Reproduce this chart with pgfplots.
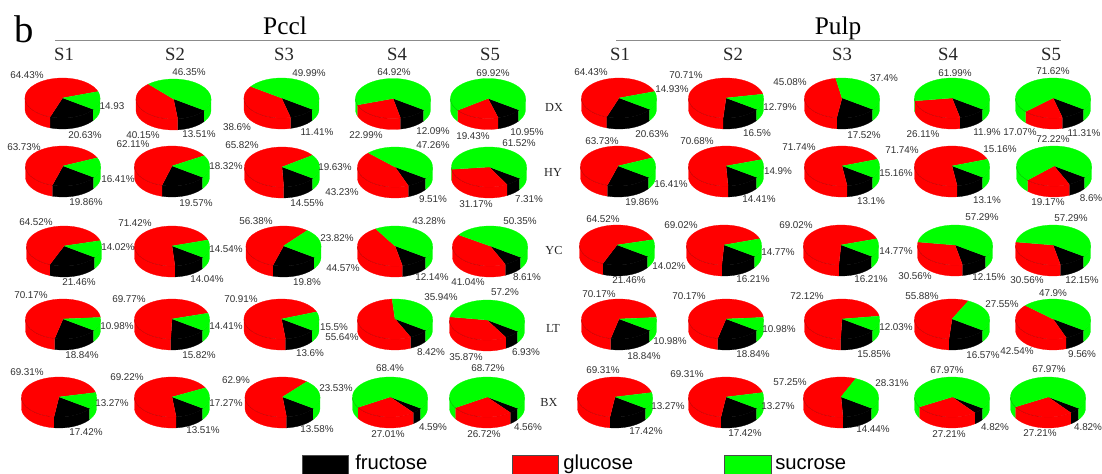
\documentclass[border=0pt]{standalone}
\usepackage{pgfplots}
\pgfplotsset{compat=1.18}
\usepackage{fontspec}
\setmainfont{Liberation Serif}
\newfontfamily\labf{Liberation Sans}
\definecolor{pred}{RGB}{255,0,0}
\definecolor{pgreen}{RGB}{0,255,0}
\definecolor{labc}{RGB}{50,50,50}
\def\rx{37.5}\def\ry{20}\def\pdepth{11}
\newcommand\arcpts[3]{%
  \pgfmathtruncatemacro\nn{max(1,ceil(abs((#2)-(#1))/6))}%
  \foreach \i in {0,...,\nn}{%
    \pgfmathsetmacro\ang{#1+((#2)-(#1))/\nn*\i}%
    \pgfmathsetmacro\px{\cx+\rx*cos(\ang)}%
    \pgfmathsetmacro\py{\cy-\ry*sin(\ang)+#3}%
    \xdef\cc{\cc (\px,\py)}%
  }}
\newcommand\emit[1]{\edef\tmp{\noexpand\addplot[#1,line width=.2pt,line join=round] coordinates {\cc};}\tmp}
% side piece of a wedge [b,a] clamped to window [wl,wh]
\newcommand\sidepiece[5]{% a b wl wh colour
  \pgfmathsetmacro\lo{max(#2,#3)}%
  \pgfmathsetmacro\hi{min(#1,#4)}%
  \pgfmathtruncatemacro\vis{\hi>\lo?1:0}%
  \ifnum\vis=1\relax
    \gdef\cc{}\arcpts{\hi}{\lo}{0}\arcpts{\lo}{\hi}{\pdepth}%
    \emit{fill=#5,draw=#5}%
  \fi}
\newcommand\topwedge[3]{% a b colour
  \xdef\cc{(\cx,\cy)}\arcpts{#1}{#2}{0}%
  \emit{fill=#3,draw=#3}}
\newcommand\piechart[5]{% cx cy fructose glucose sucrose
  \def\cx{#1}\def\cy{#2}%
  \pgfmathsetmacro\tot{#3+#4+#5}%
  \def\aA{-35}%
  \pgfmathsetmacro\aB{\aA-(#3)/\tot*360}%
  \pgfmathsetmacro\aC{\aB-(#4)/\tot*360}%
  \def\aD{-395}%
  \sidepiece{\aA}{\aB}{-180}{0}{black}%
  \sidepiece{\aB}{\aC}{-180}{0}{pred}%
  \sidepiece{\aC}{\aD}{-180}{0}{pgreen}%
  \sidepiece{\aB}{\aC}{-540}{-360}{pred}%
  \sidepiece{\aC}{\aD}{-540}{-360}{pgreen}%
  \gdef\cc{}\arcpts{-180}{0}{0}%
  \emit{draw=black,draw opacity=.25,fill=none}%
  \topwedge{\aA}{\aB}{black}%
  \topwedge{\aB}{\aC}{pred}%
  \topwedge{\aC}{\aD}{pgreen}%
  \gdef\cc{}\arcpts{-180}{-100}{0}%
  \emit{draw=black,draw opacity=.25,fill=none}%
}
\newcommand\lab[3]{\node[font=\labf\fontsize{7.4}{8}\selectfont,text=labc,inner sep=0pt] at (axis cs:#1,#2) {#3\%};}
\newcommand\labn[3]{\node[font=\labf\fontsize{7.4}{8}\selectfont,text=labc,inner sep=0pt] at (axis cs:#1,#2) {#3};}
\newcommand\hd[3]{\node[font=\fontsize{14}{15}\selectfont,anchor=base,inner sep=0pt,text=black!85] at (axis cs:#1,#2) {#3};}
\newcommand\rw[3]{\node[font=\fontsize{9.2}{10}\selectfont,inner sep=0pt,text=black!85] at (axis cs:#1,#2) {#3};}
\begin{document}
\begin{tikzpicture}
\useasboundingbox (0,0) rectangle (826.5pt,355.5pt);
\begin{axis}[at={(0,0)},anchor=south west,scale only axis,width=826.5pt,height=355.5pt,
  hide axis,xmin=0,xmax=1102,ymin=0,ymax=474,y dir=reverse,clip=false,no markers,
  every axis plot/.append style={forget plot}]
% headings
\node[font=\fontsize{29}{30}\selectfont,anchor=base,inner sep=0pt] at (axis cs:24,43) {b};
\node[font=\fontsize{19}{20}\selectfont,anchor=base,inner sep=0pt] at (axis cs:285,35) {Pccl};
\node[font=\fontsize{19}{20}\selectfont,anchor=base,inner sep=0pt] at (axis cs:838,35) {Pulp};
\addplot[draw=black!45,line width=.7pt] coordinates {(55,40.5) (500,40.5)};
\addplot[draw=black!45,line width=.7pt] coordinates {(616,40.5) (1061,40.5)};
\hd{64}{61}{S1}\hd{175}{61}{S2}\hd{284}{61}{S3}\hd{397}{61}{S4}\hd{490}{61}{S5}
\hd{620}{61}{S1}\hd{733}{61}{S2}\hd{842}{61}{S3}\hd{948}{61}{S4}\hd{1051}{61}{S5}
\rw{554}{107}{DX}\rw{553}{172}{HY}\rw{554}{250}{YC}\rw{553}{328}{LT}\rw{549}{402}{BX}
% Pccl DX
\piechart{62.5}{98}{20.63}{64.43}{14.93}\lab{27}{75}{64.43}\labn{112}{106}{14.93}\lab{85}{135}{20.63}
\piechart{173.5}{99}{13.51}{40.15}{46.35}\lab{189}{72}{46.35}\lab{143}{135}{40.15}\lab{199}{134}{13.51}
\piechart{281.5}{98}{11.41}{38.6}{49.99}\lab{309}{73}{49.99}\lab{237}{127}{38.6}\lab{317}{132}{11.41}
\piechart{393}{98.5}{12.09}{22.99}{64.92}\lab{394}{72}{64.92}\lab{366}{135}{22.99}\lab{433}{131}{12.09}
\piechart{488}{98.5}{10.95}{19.43}{69.92}\lab{493}{73}{69.92}\lab{473}{136}{19.43}\lab{527}{132}{10.95}
% Pccl HY
\piechart{63}{166}{19.86}{63.73}{16.41}\lab{24}{147}{63.73}\lab{118}{179}{16.41}\lab{86}{202}{19.86}
\piechart{172}{166}{19.57}{62.11}{18.32}\lab{133}{144}{62.11}\lab{226}{166}{18.32}\lab{196}{203}{19.57}
\piechart{282}{167}{14.55}{65.82}{19.63}\lab{242}{145}{65.82}\lab{335}{167}{19.63}\lab{307}{203}{14.55}
\piechart{395}{167}{9.51}{43.23}{47.26}\lab{433}{145}{47.26}\lab{342}{192}{43.23}\lab{433}{199}{9.51}
\piechart{489}{167}{7.31}{31.17}{61.52}\lab{519}{143}{61.52}\lab{476}{204}{31.17}\lab{529}{199}{7.31}
% Pccl YC
\piechart{64}{246}{21.46}{64.52}{14.02}\lab{36}{222}{64.52}\lab{118}{247}{14.02}\lab{79}{282}{21.46}
\piechart{172}{246}{14.04}{71.42}{14.54}\lab{135}{223}{71.42}\lab{226}{249}{14.54}\lab{207}{279}{14.04}
\piechart{283.5}{246}{19.8}{56.38}{23.82}\lab{256}{221}{56.38}\lab{337}{238}{23.82}\lab{307}{282}{19.8}
\piechart{395}{246}{12.14}{44.57}{43.28}\lab{429}{221}{43.28}\lab{343}{268}{44.57}\lab{432}{277}{12.14}
\piechart{490}{246}{8.61}{41.04}{50.35}\lab{520}{221}{50.35}\lab{468}{282}{41.04}\lab{527}{277}{8.61}
% Pccl LT
\piechart{63}{319}{18.84}{70.17}{10.98}\lab{31}{295}{70.17}\lab{117}{326}{10.98}\lab{82}{355}{18.84}
\piechart{172}{319}{15.82}{69.77}{14.41}\lab{129}{299}{69.77}\lab{226}{326}{14.41}\lab{199}{355}{15.82}
\piechart{281.5}{319}{13.6}{70.91}{15.5}\lab{241}{299}{70.91}\lab{334}{327}{15.5}\lab{310}{353}{13.6}
\piechart{395}{319}{8.42}{55.64}{35.94}\lab{441}{297}{35.94}\lab{342}{337}{55.64}\lab{431}{352}{8.42}
\piechart{487}{320}{6.93}{35.87}{57.2}\lab{505}{292}{57.2}\lab{466}{357}{35.87}\lab{526}{352}{6.93}
% Pccl BX
\piechart{59}{397}{17.42}{69.31}{13.27}\lab{27}{372}{69.31}\lab{112}{403}{13.27}\lab{86}{432}{17.42}
\piechart{172}{397}{13.51}{69.22}{17.27}\lab{127}{377}{69.22}\lab{226}{403}{17.27}\lab{203}{430}{13.51}
\piechart{282.5}{397}{13.58}{62.9}{23.53}\lab{236}{380}{62.9}\lab{336}{388}{23.53}\lab{317}{429}{13.58}
\piechart{390}{397}{4.59}{27.01}{68.4}\lab{390}{368}{68.4}\lab{388}{434}{27.01}\lab{433}{427}{4.59}
\piechart{487}{397}{4.56}{26.72}{68.72}\lab{488}{368}{68.72}\lab{484}{434}{26.72}\lab{528}{427}{4.56}
% Pulp DX
\piechart{619}{98}{20.63}{64.43}{14.93}\lab{591}{72}{64.43}\lab{672}{89}{14.93}\lab{652}{134}{20.63}
\piechart{726}{98}{16.5}{70.71}{12.79}\lab{686}{75}{70.71}\lab{780}{107}{12.79}\lab{757}{133}{16.5}
\piechart{842}{98}{17.52}{45.08}{37.4}\lab{790}{82}{45.08}\lab{884}{78}{37.4}\lab{864}{135}{17.52}
\piechart{952}{98}{11.9}{26.11}{61.99}\lab{955}{73}{61.99}\lab{923}{134}{26.11}\lab{987}{132}{11.9}
\piechart{1053}{98}{11.31}{17.07}{71.62}\lab{1053}{71}{71.62}\lab{1020}{132}{17.07}\lab{1084}{133}{11.31}
% Pulp HY
\piechart{618}{166}{19.86}{63.73}{16.41}\lab{602}{141}{63.73}\lab{671}{184}{16.41}\lab{642}{202}{19.86}
\piechart{726}{166}{14.41}{70.68}{14.9}\lab{697}{141}{70.68}\lab{778}{171}{14.9}\lab{759}{199}{14.41}
\piechart{842}{166}{13.1}{71.74}{15.16}\lab{799}{147}{71.74}\lab{896}{173}{15.16}\lab{871}{201}{13.1}
\piechart{952}{166}{13.1}{71.74}{15.16}\lab{902}{150}{71.74}\lab{1000}{149}{15.16}\lab{987}{200}{13.1}
\piechart{1054}{166}{8.6}{19.17}{72.22}\lab{1053}{139}{72.22}\lab{1048}{202}{19.17}\lab{1091}{198}{8.6}
% Pulp YC
\piechart{617}{245}{21.46}{64.52}{14.02}\lab{603}{219}{64.52}\lab{669}{266}{14.02}\lab{629}{280}{21.46}
\piechart{724}{245}{16.21}{69.02}{14.77}\lab{681}{225}{69.02}\lab{778}{252}{14.77}\lab{753}{279}{16.21}
\piechart{841}{245}{16.21}{69.02}{14.77}\lab{796}{225}{69.02}\lab{896}{251}{14.77}\lab{871}{279}{16.21}
\piechart{955}{245}{12.15}{30.56}{57.29}\lab{982}{217}{57.29}\lab{915}{276}{30.56}\lab{989}{277}{12.15}
\piechart{1053}{245}{12.15}{30.56}{57.29}\lab{1071}{218}{57.29}\lab{1027}{280}{30.56}\lab{1082}{280}{12.15}
% Pulp LT
\piechart{619}{319}{18.84}{70.17}{10.98}\lab{599}{294}{70.17}\lab{670}{341}{10.98}\lab{644}{356}{18.84}
\piechart{726}{319}{18.84}{70.17}{10.98}\lab{689}{296}{70.17}\lab{779}{329}{10.98}\lab{753}{354}{18.84}
\piechart{842}{319}{15.85}{72.12}{12.03}\lab{807}{296}{72.12}\lab{896}{327}{12.03}\lab{874}{354}{15.85}
\piechart{952}{319}{16.57}{55.88}{27.55}\lab{922}{296}{55.88}\lab{1002}{304}{27.55}\lab{983}{355}{16.57}
\piechart{1053}{319}{9.56}{42.54}{47.9}\lab{1053}{293}{47.9}\lab{1017}{351}{42.54}\lab{1082}{354}{9.56}
% Pulp BX
\piechart{615}{397}{17.42}{69.31}{13.27}\lab{603}{370}{69.31}\lab{668}{406}{13.27}\lab{646}{431}{17.42}
\piechart{726}{397}{17.42}{69.31}{13.27}\lab{687}{374}{69.31}\lab{778}{406}{13.27}\lab{745}{433}{17.42}
\piechart{841}{397}{14.44}{57.25}{28.31}\lab{790}{382}{57.25}\lab{892}{383}{28.31}\lab{873}{429}{14.44}
\piechart{952}{397}{4.82}{27.21}{67.97}\lab{947}{370}{67.97}\lab{949}{434}{27.21}\lab{995}{427}{4.82}
\piechart{1048}{397}{4.82}{27.21}{67.97}\lab{1049}{369}{67.97}\lab{1040}{433}{27.21}\lab{1088}{427}{4.82}
% legend
\addplot[fill=black,draw=black!70,line width=.5pt] coordinates {(302,455) (348,455) (348,476) (302,476)} --cycle;
\addplot[fill=pred,draw=black!70,line width=.5pt] coordinates {(512,455) (558,455) (558,476) (512,476)} --cycle;
\addplot[fill=pgreen,draw=black!70,line width=.5pt] coordinates {(724,455) (771,455) (771,476) (724,476)} --cycle;
\node[font=\labf\fontsize{15.2}{16}\selectfont,anchor=base west,inner sep=0pt] at (axis cs:355,469) {fructose};
\node[font=\labf\fontsize{15.2}{16}\selectfont,anchor=base west,inner sep=0pt] at (axis cs:563,469) {glucose};
\node[font=\labf\fontsize{15.2}{16}\selectfont,anchor=base west,inner sep=0pt] at (axis cs:775,469) {sucrose};
\end{axis}
\end{tikzpicture}
\end{document}
